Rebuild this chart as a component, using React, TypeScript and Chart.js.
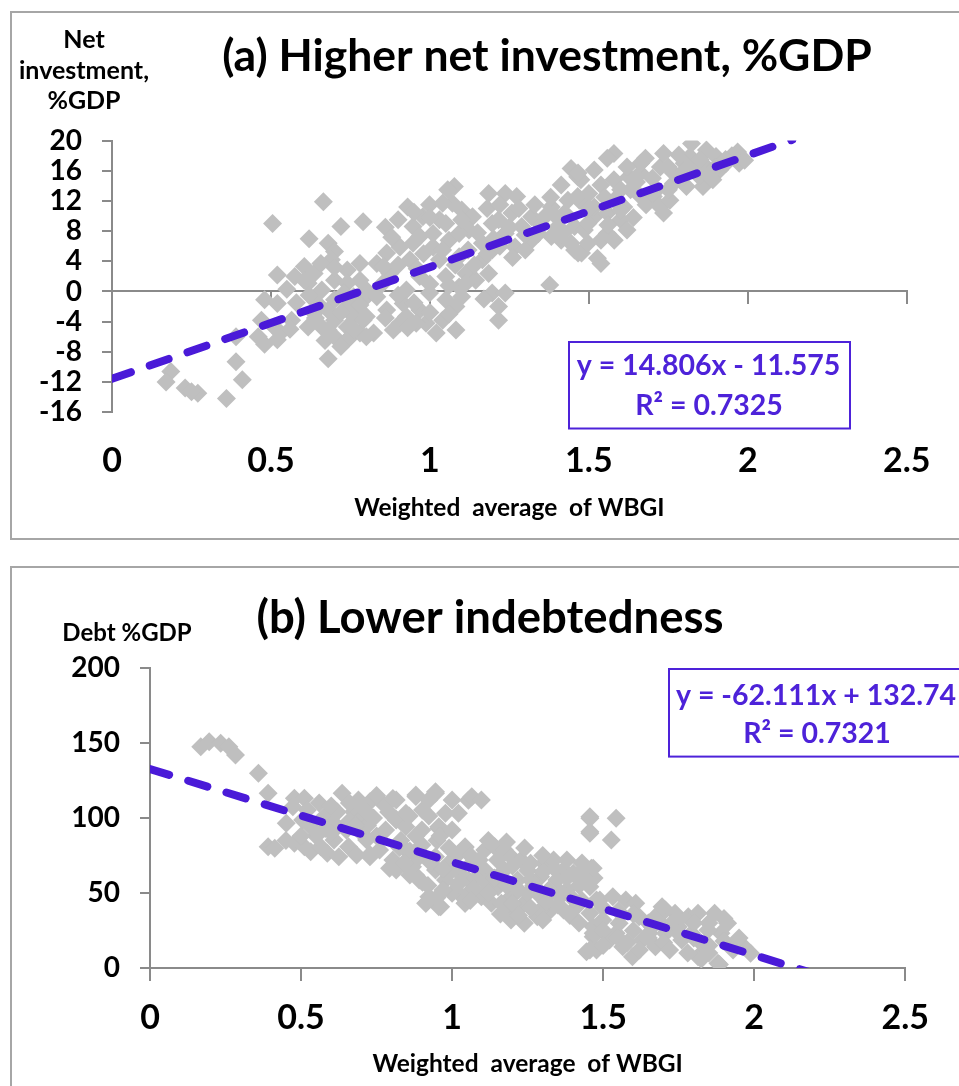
import React, { useEffect, useRef } from "react";
import { Chart, registerables } from "chart.js";

Chart.register(...registerables);

const FONT = "Lato, 'Open Sans', sans-serif";
const POINT_COLOR = "#bfbfbf";
const TREND_COLOR = "#4a1ad8";
const EQ_COLOR = "#4d22d9";
const AXIS_COLOR = "#8a8a8a";

// ---------- Panel (a) data ----------
const xTickLabels = ["0", "0.5", "1", "1.5", "2", "2.5"];
const investTickLabels = ["-16", "-12", "-8", "-4", "0", "4", "8", "12", "16", "20"];
const investTrendX = [0, 2.14];
const investTrendY = [-11.575, 20.11];
const investmentPoints: [number, number][] = [
  [0.665, 11.9], [0.505, 9.0], [0.72, 8.6], [0.79, 9.25], [0.62, 7.0], [0.68, 6.4], [0.70, 5.3], [0.69, 4.2],
  [0.605, 3.3], [0.52, 2.2], [0.575, 2.0], [0.617, 1.1], [0.74, 2.85], [0.78, 3.7], [0.48, -1.1], [0.52, -1.6],
  [0.565, -3.8], [0.47, -3.8], [0.51, -4.7], [0.46, -6.0], [0.52, -6.4], [0.39, -6.0], [0.66, -4.7], [0.70, -3.8],
  [0.74, -4.7], [0.70, -6.0], [0.75, -6.0], [0.636, -2.9], [0.68, -2.5], [0.74, -2.0], [0.76, -3.3], [0.68, -8.9],
  [0.39, -9.3], [0.41, -11.7], [0.36, -14.2], [0.185, -10.6], [0.17, -12.0], [0.23, -12.8], [0.27, -13.5], [0.25, -13.3],
  [0.48, -7.0], [0.53, -5.5], [0.605, 1.5], [0.636, 2.4], [0.657, 3.7], [0.70, 1.5], [0.74, 1.1], [0.78, 1.5],
  [0.76, -0.7], [0.80, -0.7], [0.70, -1.1], [0.647, -1.6], [0.617, -4.7], [0.74, -6.4], [0.78, -5.5], [0.72, -7.3],
  [0.79, -3.8], [0.68, -5.1],
  [0.64, -3.5], [0.72, -2.8], [0.78, -1.8], [0.66, 0.2], [0.73, -0.2], [0.62, -0.5], [0.70, 3.2], [0.76, -5.0],
  [0.67, -6.5], [0.56, -5.0], [0.58, -1.5], [0.55, 0.3],
  [1.444, 16.3], [1.413, 14.1], [1.465, 15.2], [1.47, 12.1], [1.455, 8.6], [1.466, 5.1], [1.377, 0.86], [1.185, 13.0],
  [1.237, 13.0], [1.273, 12.6], [1.077, 13.9], [1.056, 13.5], [0.93, 11.2], [0.999, 11.5], [1.03, 9.5], [1.10, 10.8],
  [1.134, 9.9], [0.947, 8.6], [0.906, 5.9], [0.968, 7.3], [1.01, 5.9], [1.06, 6.8], [1.123, 8.15], [1.216, 9.5],
  [1.258, 10.4], [1.289, 8.6], [1.32, 9.9], [1.361, 9.9], [1.403, 8.6], [1.413, 6.8], [1.32, 6.8], [1.268, 5.9],
  [1.196, 5.5], [1.165, 4.2], [1.092, 4.6], [1.03, 4.2], [0.937, 4.2], [0.864, 5.1], [0.833, 3.7], [0.874, 2.4],
  [0.968, 2.0], [1.05, 2.0], [1.113, 2.4], [1.144, 1.5], [1.185, 2.4], [1.092, 0.6], [1.05, -1.1], [1.10, -0.7],
  [1.196, -0.2], [1.237, -0.2], [1.216, -2.0], [1.216, -3.8], [0.833, -0.7], [0.864, -2.45], [0.916, -1.6], [0.968, -2.45],
  [0.988, -4.2], [1.04, -3.8], [1.082, -5.1], [1.02, -5.5], [0.823, -5.5], [0.906, -4.2], [0.80, -3.3],
  [0.80, 0.2], [0.854, 3.3], [0.926, 0.2], [0.999, -0.2], [0.957, -4.2], [0.885, -5.1], [0.80, -6.0], [0.926, -3.3],
  [1.082, -2.0], [1.113, 1.1], [0.978, 9.9], [1.071, 11.7], [1.092, 7.7], [1.165, 6.4], [1.04, 11.7], [0.947, 6.4],
  [1.01, 7.7], [1.196, 9.0], [1.237, 7.7], [1.382, 11.2], [1.434, 12.1], [1.424, 10.4], [1.341, 7.7], [1.382, 7.3],
  [1.444, 6.4], [1.30, 5.5],
  [0.86, 8.5], [0.90, 9.5], [0.95, 10.5], [1.0, 9.8], [1.05, 9.0], [1.10, 9.5], [0.88, 7.2], [0.98, 5.0],
  [1.04, 5.5], [1.08, 3.5], [1.12, 5.5], [0.90, 3.5], [0.96, 3.0], [1.0, 1.0], [1.06, 0.8], [0.85, 1.0],
  [0.90, -0.5], [0.95, -1.5], [1.0, -2.8], [1.06, -3.0], [0.86, -3.5], [0.93, -4.8], [1.14, 3.5], [1.17, -1.0],
  [1.18, 11.0], [1.22, 11.5], [1.28, 11.0], [1.33, 11.5], [1.38, 12.5], [1.20, 7.0], [1.25, 8.5], [1.30, 7.5],
  [1.35, 8.8], [1.40, 9.8], [1.26, 4.5], [1.22, 6.0], [1.42, 7.8], [1.15, 7.8], [1.18, 5.0],
  [1.579, 18.3], [1.558, 17.65], [1.823, 19.6], [1.783, 18.1], [1.968, 18.5], [1.973, 17.0], [1.87, 18.75], [1.90, 17.9],
  [1.678, 17.65], [1.725, 16.5], [1.662, 15.7], [1.626, 15.2], [1.538, 14.1], [1.475, 14.8], [1.466, 15.7], [1.58, 12.1],
  [1.663, 12.6], [1.725, 11.2], [1.735, 10.4], [1.807, 13.9], [1.859, 13.9], [1.848, 15.2], [1.797, 15.2], [1.911, 16.1],
  [1.99, 17.4], [1.517, 9.9], [1.60, 9.5], [1.62, 8.15], [1.558, 7.7], [1.486, 8.15], [1.477, 5.1], [1.527, 4.4],
  [1.497, 6.4], [1.538, 6.8], [1.714, 13.5], [1.766, 14.3],
  [1.465, 12.6], [1.517, 11.2], [1.558, 10.4], [1.61, 11.2], [1.631, 13.5], [1.579, 14.8], [1.517, 16.1], [1.455, 5.5],
  [1.538, 3.7], [1.497, 9.0], [1.58, 6.8], [1.703, 12.6], [1.755, 12.1], [1.766, 15.7], [1.828, 16.1], [1.87, 16.5],
  [1.89, 14.8], [1.932, 17.0], [1.818, 17.9], [1.735, 18.3], [1.663, 17.0], [1.62, 16.5],
  [1.50, 13.0], [1.55, 12.5], [1.60, 13.5], [1.65, 14.5], [1.70, 15.0], [1.75, 16.5], [1.80, 17.0], [1.85, 17.5],
  [1.90, 16.5], [1.95, 18.0], [1.68, 11.5], [1.70, 13.0], [1.75, 13.5], [1.60, 10.8], [1.50, 11.0], [1.56, 8.8],
  [1.64, 9.8], [1.80, 16.0], [1.88, 15.5], [1.93, 17.5],
];

// ---------- Panel (b) data ----------
const debtTickLabels = ["0", "50", "100", "150", "200"];
const debtTrendX = [0, 2.19];
const debtTrendY = [132.74, -3.28];
const debtPoints: [number, number][] = [
  [0.168, 147.6], [0.196, 150.9], [0.234, 149.9], [0.261, 147.6], [0.283, 142.1], [0.359, 129.9], [0.391, 116.5], [0.391, 80.9],
  [0.413, 79.8], [0.451, 96.5], [0.478, 113.2], [0.511, 113.2], [0.473, 107.6], [0.521, 105.4], [0.505, 98.7], [0.532, 94.2],
  [0.576, 100.9], [0.609, 96.5], [0.636, 116.5], [0.69, 112.0], [0.728, 110.9], [0.674, 104.2], [0.706, 100.9], [0.478, 83.1],
  [0.511, 80.9], [0.532, 77.5], [0.565, 80.9], [0.587, 76.5], [0.625, 74.2], [0.657, 80.9], [0.684, 75.3], [0.728, 74.2],
  [0.76, 78.7], [0.609, 85.4], [0.717, 85.4], [0.77, 109.8],
  [0.55, 88], [0.60, 90], [0.65, 92], [0.70, 90], [0.75, 88], [0.78, 92], [0.72, 95], [0.66, 98],
  [0.58, 93], [0.62, 104], [0.68, 95], [0.74, 100], [0.79, 104], [0.56, 110], [0.60, 108], [0.66, 110],
  [0.75, 115], [0.45, 85], [0.50, 88],
  [0.804, 113.0], [0.88, 114.3], [0.945, 116.6], [1.054, 111.9], [0.858, 101.4], [0.923, 101.4], [0.815, 99.1], [0.956, 93.2],
  [1.043, 80.4], [0.826, 80.4], [0.793, 66.5], [0.88, 61.8], [0.913, 43.1], [0.962, 40.8], [0.902, 57.1], [1.021, 50.1],
  [1.043, 43.1], [0.728, 75.7], [0.695, 108.4], [0.717, 103.8],
  [0.815, 112.0], [0.88, 115.4], [0.945, 117.6], [1.0, 112.0], [1.065, 114.2], [1.097, 112.0], [0.902, 105.4], [0.978, 103.2],
  [1.021, 103.2], [0.956, 94.2], [0.815, 98.7], [0.847, 94.2], [1.043, 80.9], [0.804, 72.0], [0.815, 65.3], [0.869, 67.5],
  [0.891, 58.7], [0.923, 47.5], [0.956, 40.8], [0.945, 65.3], [1.0, 65.3], [1.054, 58.7], [1.0, 49.8], [1.043, 43.1],
  [1.097, 47.5], [1.108, 78.7], [1.141, 80.9], [1.173, 78.7], [1.195, 74.2], [1.228, 72.0], [1.26, 69.8], [1.304, 69.8],
  [1.336, 72.0], [1.369, 65.3], [1.401, 63.1], [1.423, 58.7], [1.108, 65.3], [1.152, 54.2], [1.13, 43.1], [1.184, 38.6],
  [1.195, 32.0], [1.239, 29.8], [1.282, 34.2], [1.326, 38.6], [1.239, 43.1], [1.282, 49.8], [1.217, 58.7], [1.293, 60.9],
  [1.347, 58.7], [1.456, 100.9], [1.456, 90.9], [1.461, 66.5], [1.478, 45.3], [1.467, 27.5], [1.445, 10.8], [1.478, 11.9],
  [1.467, 20.8], [1.38, 52.0], [1.412, 40.8], [0.913, 43.1],
  [0.837, 80.9], [0.891, 74.2], [0.945, 74.2], [1.0, 72.0], [1.065, 69.8], [0.978, 58.7], [1.054, 49.8], [1.173, 65.3],
  [1.26, 58.7], [1.195, 47.5], [1.25, 49.8], [1.315, 47.5], [1.293, 38.6], [1.163, 43.1], [1.358, 47.5], [1.369, 38.6],
  [0.847, 103.2], [0.923, 112.0],
  [0.83, 85], [0.86, 78], [0.90, 82], [0.95, 85], [0.99, 80], [1.02, 76], [1.06, 75], [1.09, 72],
  [0.84, 70], [0.93, 70], [0.97, 66], [1.03, 62], [1.08, 60], [0.86, 62], [0.92, 55], [0.97, 52],
  [1.02, 56], [1.07, 53], [1.11, 57], [0.95, 47], [1.06, 45], [1.12, 50], [0.90, 92], [0.96, 88],
  [1.0, 92], [0.88, 88],
  [1.15, 72], [1.20, 68], [1.25, 65], [1.30, 64], [1.34, 66], [1.38, 60], [1.42, 55], [1.14, 60],
  [1.18, 55], [1.22, 52], [1.27, 55], [1.32, 52], [1.36, 50], [1.40, 46], [1.20, 43], [1.26, 40],
  [1.31, 44], [1.35, 42], [1.16, 36], [1.22, 35], [1.30, 32], [1.39, 35], [1.43, 45], [1.42, 30],
  [1.12, 85], [1.18, 84], [1.24, 80], [1.30, 75], [1.38, 72], [1.43, 70], [1.47, 60],
  [1.456, 99.8], [1.543, 99.8], [1.456, 89.8], [1.527, 85.4], [1.467, 66.5], [1.456, 54.2], [1.489, 45.3], [1.532, 47.5],
  [1.575, 45.3], [1.608, 43.1], [1.456, 36.4], [1.499, 32.0], [1.553, 29.8], [1.619, 34.2], [1.467, 23.1], [1.521, 18.6],
  [1.565, 14.1], [1.597, 7.5], [1.456, 11.9], [1.652, 23.1], [1.673, 34.2], [1.706, 38.6], [1.738, 36.4], [1.782, 34.2],
  [1.814, 36.4], [1.869, 36.4], [1.912, 29.8], [1.89, 23.1], [1.847, 25.3], [1.706, 23.1], [1.76, 18.6], [1.673, 14.1],
  [1.814, 7.5], [1.88, 3.1], [1.966, 14.1], [1.988, 9.7], [1.825, 16.4], [1.727, 29.8], [1.543, 23.1], [1.63, 18.6],
  [1.43, 65.0], [1.445, 58.0], [1.695, 40.8], [1.662, 27.5], [1.749, 27.5], [1.793, 23.1], [1.825, 5.9], [1.885, 2.3],
  [1.50, 40], [1.55, 38], [1.60, 36], [1.65, 30], [1.70, 28], [1.75, 32], [1.80, 30], [1.85, 30],
  [1.90, 33], [1.50, 25], [1.55, 20], [1.60, 25], [1.65, 20], [1.70, 17], [1.75, 23], [1.80, 20],
  [1.85, 15], [1.90, 18], [1.95, 20], [1.50, 15], [1.58, 17], [1.62, 12], [1.72, 12], [1.78, 10],
  [1.85, 10], [1.93, 12],
];

type Layout = {
  width: number;
  height: number;
  padTop: number;
  padRight: number;
  yWidth: number;
  xHeight: number;
  xLabelPad: number;
  xTitlePadBottom: number;
  title: { x: number; y: number; size: number };
  caption: { x: number; y: number; gap: number; size: number };
  eqBox: { x: number; y: number; w: number; h: number };
  eqLines: { x: number; y: number }[];
  eqSize: number;
};

type PanelProps = {
  points: [number, number][];
  trendX: number[];
  trendY: number[];
  yMin: number;
  yMax: number;
  yStep: number;
  yLabels: string[];
  title: string;
  caption: string[];
  equation: string[];
  layout: Layout;
};

function Panel(props: PanelProps) {
  const ref = useRef<HTMLCanvasElement | null>(null);
  useEffect(() => {
    if (!ref.current) return;
    const L = props.layout;
    const textPlugin = {
      id: "panelText",
      afterDraw(chart: any) {
        const ctx = chart.ctx as CanvasRenderingContext2D;
        ctx.save();
        ctx.textAlign = "center";
        ctx.textBaseline = "middle";
        ctx.fillStyle = "#000";
        ctx.font = `bold ${L.title.size}px ${FONT}`;
        ctx.fillText(props.title, L.title.x, L.title.y);
        ctx.font = `bold ${L.caption.size}px ${FONT}`;
        props.caption.forEach((line, i) => ctx.fillText(line, L.caption.x, L.caption.y + i * L.caption.gap));
        ctx.strokeStyle = EQ_COLOR;
        ctx.lineWidth = 2;
        ctx.strokeRect(L.eqBox.x, L.eqBox.y, L.eqBox.w, L.eqBox.h);
        ctx.fillStyle = EQ_COLOR;
        ctx.font = `bold ${L.eqSize}px ${FONT}`;
        props.equation.forEach((line, i) => ctx.fillText(line, L.eqLines[i].x, L.eqLines[i].y));
        ctx.restore();
      },
    };
    const chart = new Chart(ref.current, {
      type: "scatter",
      data: {
        datasets: [
          {
            type: "line",
            data: props.trendX.map((x, i) => ({ x, y: props.trendY[i] })),
            borderColor: TREND_COLOR,
            borderWidth: 8,
            borderDash: [20, 20],
            borderCapStyle: "round",
            pointRadius: 0,
            fill: false,
            tension: 0,
          } as any,
          {
            data: props.points.map(([x, y]) => ({ x, y })),
            pointStyle: "rectRot",
            pointRadius: 9.5,
            pointBackgroundColor: POINT_COLOR,
            pointBorderWidth: 0,
            pointBorderColor: POINT_COLOR,
          } as any,
        ],
      },
      options: {
        responsive: false,
        animation: false,
        devicePixelRatio: 1,
        events: [],
        layout: { padding: { top: L.padTop, right: L.padRight, bottom: 0, left: 0 } },
        plugins: { legend: { display: false }, tooltip: { enabled: false }, title: { display: false } },
        scales: {
          x: {
            type: "linear",
            axis: "x",
            position: { y: 0 } as any,
            min: 0,
            max: 2.5,
            ticks: { stepSize: 0.5, display: false, autoSkip: false },
            grid: { drawOnChartArea: false, drawTicks: true, tickLength: 12, color: AXIS_COLOR, lineWidth: 2 },
            border: { display: true, color: AXIS_COLOR, width: 2 },
          },
          x2: {
            type: "linear",
            axis: "x",
            position: "bottom",
            min: 0,
            max: 2.5,
            ticks: {
              stepSize: 0.5,
              autoSkip: false,
              padding: L.xLabelPad,
              color: "#000",
              font: { family: FONT, size: 34, weight: "bold" },
              maxRotation: 0,
              callback: (_v: any, i: number) => xTickLabels[i],
            },
            grid: { display: false, drawTicks: false },
            border: { display: false },
            title: {
              display: true,
              text: "Weighted  average  of WBGI",
              color: "#000",
              font: { family: FONT, size: 24.5, weight: "bold" },
              padding: { top: 0, bottom: L.xTitlePadBottom },
            },
            afterFit: (s: any) => {
              s.height = L.xHeight;
            },
          },
          y: {
            type: "linear",
            position: "left",
            min: props.yMin,
            max: props.yMax,
            ticks: {
              stepSize: props.yStep,
              autoSkip: false,
              padding: 20,
              color: "#000",
              font: { family: FONT, size: 28, weight: "bold" },
              callback: (_v: any, i: number) => props.yLabels[i],
            },
            grid: { drawOnChartArea: false, drawTicks: true, tickLength: 10, color: AXIS_COLOR, lineWidth: 2 },
            border: { display: true, color: AXIS_COLOR, width: 2 },
            afterFit: (s: any) => {
              s.width = L.yWidth;
            },
          },
        },
      } as any,
      plugins: [textPlugin],
    });
    return () => chart.destroy();
  }, []);
  return (
    <canvas
      ref={ref}
      width={props.layout.width}
      height={props.layout.height}
      style={{ display: "block", width: props.layout.width, height: props.layout.height }}
    />
  );
}

const layoutA: Layout = {
  width: 947,
  height: 525,
  padTop: 127.6,
  padRight: 42,
  yWidth: 100,
  xHeight: 125.8,
  xLabelPad: 28.5,
  xTitlePadBottom: 15.5,
  title: { x: 535, y: 44, size: 44.5 },
  caption: { x: 72, y: 27, gap: 30.5, size: 25 },
  eqBox: { x: 557, y: 329, w: 281, h: 86.5 },
  eqLines: [
    { x: 696.5, y: 353 },
    { x: 697, y: 393 },
  ],
  eqSize: 28.5,
};

const layoutB: Layout = {
  width: 947,
  height: 518,
  padTop: 100.2,
  padRight: 42,
  yWidth: 138,
  xHeight: 118.1,
  xLabelPad: 30,
  xTitlePadBottom: 7.5,
  title: { x: 478, y: 50.6, size: 45.5 },
  caption: { x: 115, y: 65.6, gap: 0, size: 24 },
  eqBox: { x: 657, y: 101, w: 320, h: 87.6 },
  eqLines: [
    { x: 804, y: 127.4 },
    { x: 805, y: 166 },
  ],
  eqSize: 28.5,
};

export default function App() {
  return (
    <div style={{ position: "absolute", left: 0, top: 0, width: 959, height: 1086, overflow: "hidden", background: "#fff" }}>
      <div style={{ position: "absolute", left: 10, top: 11, width: 960, height: 525, border: "2px solid #a6a6a6" }}>
        <Panel
          points={investmentPoints}
          trendX={investTrendX}
          trendY={investTrendY}
          yMin={-16}
          yMax={20}
          yStep={4}
          yLabels={investTickLabels}
          title="(a) Higher net investment, %GDP"
          caption={["Net", "investment,", "%GDP"]}
          equation={["y = 14.806x - 11.575", "R² = 0.7325"]}
          layout={layoutA}
        />
      </div>
      <div style={{ position: "absolute", left: 10, top: 566, width: 960, height: 560, border: "2px solid #a6a6a6" }}>
        <Panel
          points={debtPoints}
          trendX={debtTrendX}
          trendY={debtTrendY}
          yMin={0}
          yMax={200}
          yStep={50}
          yLabels={debtTickLabels}
          title="(b) Lower indebtedness"
          caption={["Debt %GDP"]}
          equation={["y = -62.111x + 132.74", "R² = 0.7321"]}
          layout={layoutB}
        />
      </div>
    </div>
  );
}
